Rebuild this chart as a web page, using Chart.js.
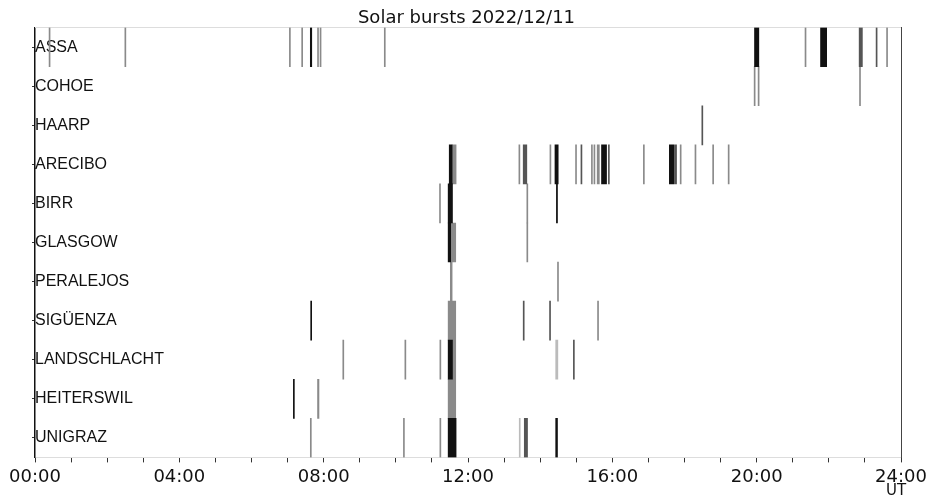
<!DOCTYPE html>
<html>
<head>
<meta charset="utf-8">
<title>Solar bursts 2022/12/11</title>
<script src="https://cdn.jsdelivr.net/npm/chart.js@4.4.0/dist/chart.umd.min.js"></script>
<style>
    html, body { margin: 0; padding: 0; background: #fff; }
    #wrap { width: 928px; height: 499px; position: relative; }
</style>
</head>
<body>
<div id="wrap"><canvas id="burstChart"></canvas></div>
<script>
// Stations, top to bottom
const stations = ['ASSA', 'COHOE', 'HAARP', 'ARECIBO', 'BIRR', 'GLASGOW', 'PERALEJOS',
    'SIGÜENZA', 'LANDSCHLACHT', 'HEITERSWIL', 'UNIGRAZ'];

// Bursts per station: [start UT hours, end UT hours, level] (level 1 = strongest)
const ASSA = [[0.39, 0.39, 3], [2.49, 2.49, 3], [7.05, 7.05, 3], [7.39, 7.39, 3], [7.63, 7.67, 1],
    [7.83, 7.83, 3], [7.90, 7.90, 3], [9.68, 9.68, 3], [19.94, 20.06, 1], [21.34, 21.34, 3],
    [21.77, 21.94, 1], [22.84, 22.93, 2], [23.31, 23.31, 2], [23.60, 23.60, 3]];
const COHOE = [[19.93, 19.93, 3], [20.04, 20.04, 3], [22.85, 22.85, 3]];
const HAARP = [[18.48, 18.48, 2]];
const ARECIBO = [[11.48, 11.56, 1], [11.56, 11.67, 3], [13.41, 13.41, 3], [13.53, 13.63, 2],
    [14.27, 14.27, 3], [14.41, 14.50, 1], [14.98, 14.98, 3], [15.13, 15.13, 2], [15.42, 15.42, 3],
    [15.49, 15.49, 3], [15.58, 15.64, 3], [15.70, 15.84, 1], [15.89, 15.89, 2], [16.86, 16.86, 3],
    [17.58, 17.70, 1], [17.72, 17.78, 2], [17.88, 17.88, 3], [18.29, 18.29, 3], [18.78, 18.78, 3],
    [19.21, 19.21, 3]];
const BIRR = [[11.21, 11.21, 3], [11.45, 11.57, 1], [13.63, 13.63, 3], [14.45, 14.48, 1]];
const GLASGOW = [[11.45, 11.52, 1], [11.52, 11.66, 3], [13.63, 13.63, 3]];
const PERALEJOS = [[11.51, 11.56, 3], [14.48, 14.48, 3]];
const SIGUENZA = [[7.64, 7.64, 1], [11.45, 11.66, 3], [13.53, 13.53, 2], [14.26, 14.26, 2], [15.59, 15.59, 3]];
const LANDSCHLACHT = [[8.53, 8.53, 3], [10.25, 10.25, 3], [11.22, 11.22, 3], [11.45, 11.57, 1],
    [11.57, 11.66, 3], [14.43, 14.49, 4], [14.92, 14.92, 2]];
const HEITERSWIL = [[7.16, 7.16, 1], [7.83, 7.87, 3], [11.45, 11.66, 3]];
const UNIGRAZ = [[7.63, 7.63, 3], [10.21, 10.21, 3], [11.22, 11.22, 3], [11.45, 11.67, 1],
    [13.42, 13.42, 4], [13.56, 13.65, 2], [14.43, 14.48, 1]];

const bursts = [ASSA, COHOE, HAARP, ARECIBO, BIRR, GLASGOW, PERALEJOS, SIGUENZA, LANDSCHLACHT, HEITERSWIL, UNIGRAZ];

// X axis: hour ticks, labelled every 4 hours
const hourTicks = [0, 4, 8, 12, 16, 20, 24];

const levelColors = { 1: '#111111', 2: '#555555', 3: '#8a8a8a', 4: '#bbbbbb' };

function buildDatasets() {
    // dataset 0 is drawn on top, so strongest level goes first
    return [1, 2, 3, 4].map(level => {
        const pts = [];
        bursts.forEach((list, i) => {
            list.filter(b => b[2] === level).forEach(b => pts.push({ y: stations[i], x: [b[0], b[1]] }));
        });
        return {
            label: 'level ' + level, data: pts,
            backgroundColor: levelColors[level], borderWidth: 0,
            barPercentage: 1, categoryPercentage: 1, minBarLength: 1, grouped: false,
            xAxisID: 'x', yAxisID: 'y'
        };
    });
}

const pad2 = n => String(n).padStart(2, '0');

const utLabel = {
    id: 'utLabel',
    afterDraw(chart) {
        const ctx = chart.ctx;
        const xs = chart.scales.x;
        ctx.save();
        ctx.font = '15px "DejaVu Sans"';
        ctx.fillStyle = '#111';
        ctx.textAlign = 'center';
        ctx.textBaseline = 'middle';
        ctx.fillText('UT', xs.getPixelForValue(24) - 5, 491);
        ctx.restore();
    }
};

const ctx = document.getElementById('burstChart').getContext('2d');
new Chart(ctx, {
    type: 'bar',
    data: { labels: stations, datasets: buildDatasets() },
    options: {
        indexAxis: 'y',
        responsive: true,
        maintainAspectRatio: false,
        animation: false,
        layout: { padding: { left: 32, right: 27, top: 0, bottom: 7 } },
        plugins: {
            legend: { display: false },
            tooltip: { enabled: false },
            title: {
                display: true, text: 'Solar bursts 2022/12/11', color: '#111',
                font: { family: 'DejaVu Sans', size: 18, weight: 'normal' },
                padding: { top: 8, bottom: -2 }
            }
        },
        scales: {
            x: {
                type: 'linear', position: 'bottom', min: 0, max: 24,
                afterBuildTicks: axis => { axis.ticks = Array.from({ length: 25 }, (_, h) => ({ value: h })); },
                // end labels may hang over the edges, as in the original
                afterFit: axis => { axis.paddingLeft = 0; axis.paddingRight = 0; },
                ticks: {
                    autoSkip: false, maxRotation: 0, padding: 4, color: '#111',
                    font: { family: 'DejaVu Sans', size: 18 },
                    callback: v => hourTicks.includes(v) ? pad2(v) + ':00' : ''
                },
                grid: { drawOnChartArea: false, tickLength: 5, tickColor: '#333' },
                border: { color: '#dddddd' }
            },
            y: {
                type: 'category', position: 'left', offset: true,
                ticks: { mirror: true, padding: 0, color: '#111', font: { family: 'Liberation Sans', size: 16 } },
                grid: { offset: false, drawOnChartArea: false, tickLength: 3, tickColor: '#333' },
                border: { color: '#111', width: 1.5 }
            },
            xTop: {
                type: 'linear', position: 'top', min: 0, max: 24,
                ticks: { display: false },
                grid: { drawOnChartArea: false, drawTicks: false },
                border: { color: '#dddddd' }
            },
            yRight: {
                type: 'linear', position: 'right', min: 0, max: 1,
                ticks: { display: false },
                grid: { drawOnChartArea: false, drawTicks: false },
                border: { color: '#444' }
            }
        }
    },
    plugins: [utLabel]
});
</script>
</body>
</html>
